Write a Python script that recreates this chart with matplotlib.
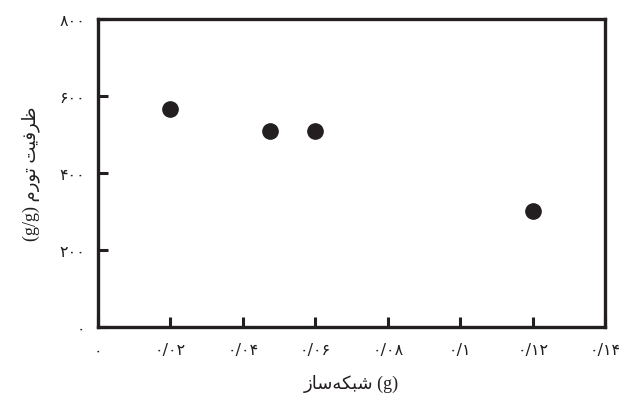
import matplotlib
matplotlib.use('Agg')
import matplotlib.pyplot as plt

# data
crosslinker = [0.02, 0.0475, 0.06, 0.12]
swelling = [566, 510, 510, 302]

x_ticks = [0, 0.02, 0.04, 0.06, 0.08, 0.10, 0.12, 0.14]
x_tick_labels = ['۰', '۰/۰۲', '۰/۰۴', '۰/۰۶', '۰/۰۸', '۰/۱', '۰/۱۲', '۰/۱۴']
y_ticks = [0, 200, 400, 600, 800]
y_tick_labels = ['۰', '۲۰۰', '۴۰۰', '۶۰۰', '۸۰۰']

x_label = 'شبکه\u200cساز'
y_label = 'ظرفیت تورم'

# matplotlib has no arabic shaping, so pick the presentation forms by hand
# (isolated, final, initial, medial) -- two entries means right-joining only
FORMS = {
    'ظ': ('\uFEC5', '\uFEC6', '\uFEC7', '\uFEC8'),
    'ر': ('\uFEAD', '\uFEAE'),
    'ف': ('\uFED1', '\uFED2', '\uFED3', '\uFED4'),
    'ی': ('\uFEEF', '\uFEF0', '\uFEF3', '\uFEF4'),
    'ت': ('\uFE95', '\uFE96', '\uFE97', '\uFE98'),
    'و': ('\uFEED', '\uFEEE'),
    'م': ('\uFEE1', '\uFEE2', '\uFEE3', '\uFEE4'),
    'ش': ('\uFEB5', '\uFEB6', '\uFEB7', '\uFEB8'),
    'ب': ('\uFE8F', '\uFE90', '\uFE91', '\uFE92'),
    'ک': ('\uFED9', '\uFEDA', '\uFEDB', '\uFEDC'),
    'ه': ('\uFEE9', '\uFEEA', '\uFEEB', '\uFEEC'),
    'س': ('\uFEB1', '\uFEB2', '\uFEB3', '\uFEB4'),
    'ا': ('\uFE8D', '\uFE8E'),
    'ز': ('\uFEAF', '\uFEB0'),
}


def shape(text):
    out = []
    for i, c in enumerate(text):
        if c not in FORMS:
            if c != '\u200c':
                out.append(c)
            continue
        f = FORMS[c]
        prev = text[i - 1] if i > 0 else None
        nxt = text[i + 1] if i + 1 < len(text) else None
        jp = prev in FORMS and len(FORMS[prev]) == 4
        jn = len(f) == 4 and nxt in FORMS
        if jp and jn:
            out.append(f[3])
        elif jp:
            out.append(f[1])
        elif jn:
            out.append(f[2])
        else:
            out.append(f[0])
    return ''.join(out)[::-1]


ink = '#231f20'
fam = ['Liberation Serif', 'DejaVu Sans']

fig = plt.figure(figsize=(6.24, 4.02), dpi=100)
ax = fig.add_axes([0.157, 0.184, 0.813, 0.766])

ax.plot(crosslinker, swelling, 'o', color=ink, markersize=11, clip_on=False)

ax.set_xlim(0, 0.14)
ax.set_ylim(0, 800)
ax.set_xticks(x_ticks)
ax.set_xticklabels(x_tick_labels, family=['DejaVu Sans'], fontsize=11.5, color=ink)
ax.set_yticks(y_ticks)
ax.set_yticklabels(y_tick_labels, family=['DejaVu Sans'], fontsize=11.5, color=ink)
ax.tick_params(axis='both', direction='in', length=7, width=2.2, color=ink)
ax.tick_params(axis='x', pad=11)
ax.tick_params(axis='y', pad=9)

for s in ax.spines.values():
    s.set_linewidth(2.4)
    s.set_color(ink)

ax.set_xlabel(shape(x_label) + ' (g)', family=fam, fontsize=13, color=ink, labelpad=12)
ax.set_ylabel('(g/g) ' + shape(y_label), family=fam, fontsize=13, color=ink, labelpad=14)

fig.savefig('out.png', dpi=100)
